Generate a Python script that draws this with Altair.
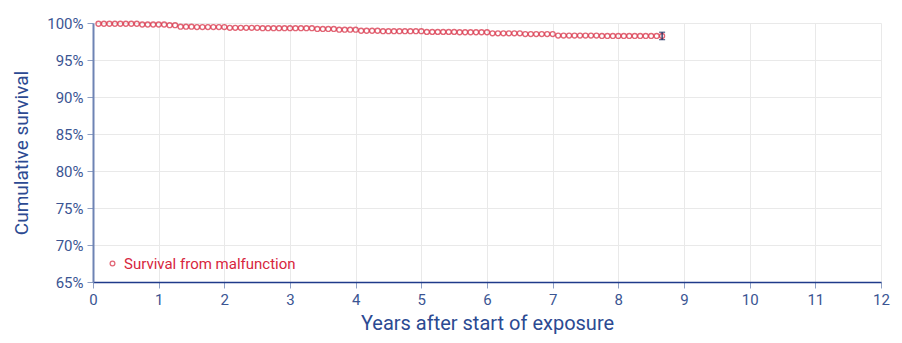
import altair as alt
import pandas as pd

# monthly survival estimates (months 1..104)
months = list(range(1, 105))
survival = (
    [99.9] * 8 + [99.8] * 5 + [99.7] * 2 + [99.5] * 3 + [99.45] * 6 +
    [99.35] * 6 + [99.3] * 10 + [99.2] * 4 + [99.1] * 4 + [98.95] * 4 +
    [98.9] * 8 + [98.8] * 6 + [98.75] * 6 + [98.6] * 6 + [98.5] * 6 +
    [98.3] * 8 + [98.25] * 12
)
series_name = "Survival from malfunction"
err_year = [104 / 12]
err_low = [97.75]
err_high = [98.75]
y_ticks = [0.65, 0.70, 0.75, 0.80, 0.85, 0.90, 0.95, 1.00]
x_ticks = list(range(0, 13))

df = pd.DataFrame({
    "year": [m / 12 for m in months],
    "surv": [s / 100 for s in survival],
    "series": [series_name] * len(months),
})
err = pd.DataFrame({
    "year": err_year,
    "lo": [v / 100 for v in err_low],
    "hi": [v / 100 for v in err_high],
})

FONT = "Roboto"
LABEL_C = "#3b5593"
TITLE_C = "#2c4a92"
RED = "#d7263d"

xscale = alt.Scale(domain=[0, 12], nice=False)
yscale = alt.Scale(domain=[0.65, 1.0], nice=False)

xaxis = alt.Axis(
    title="Years after start of exposure", values=x_ticks, format="d",
    domainColor="#1f3a8a", domainWidth=1.5, tickColor="#8fa0c4", tickSize=6,
    labelColor=LABEL_C, labelFontSize=15, labelFont=FONT, labelPadding=4,
    titleColor=TITLE_C, titleFontSize=20, titleFont=FONT, titleFontWeight="normal",
    titlePadding=6, gridColor="#e9e9e9", labelFlush=False, labelOverlap=False,
)
yaxis = alt.Axis(
    title="Cumulative survival", values=y_ticks,
    format=".0%", domainColor="#6e83b4", domainWidth=2, tickColor="#8fa0c4", tickSize=6,
    labelColor=LABEL_C, labelFontSize=15, labelFont=FONT, labelPadding=4,
    titleColor=TITLE_C, titleFontSize=19, titleFont=FONT, titleFontWeight="normal",
    titlePadding=15, gridColor="#e9e9e9", labelOverlap=False, labelFlush=False,
)

X = alt.X("year:Q", scale=xscale, axis=xaxis)

points = alt.Chart(df).mark_point(
    shape="circle", filled=False, size=24, strokeWidth=1.4
).encode(
    x=X,
    y=alt.Y("surv:Q", scale=yscale, axis=yaxis),
    color=alt.Color(
        "series:N",
        scale=alt.Scale(range=[RED]),
        legend=alt.Legend(
            title=None, orient="none", legendX=12, legendY=233,
            labelColor=RED, labelFontSize=15, labelFont=FONT, labelLimit=0,
            symbolSize=22, symbolStrokeWidth=1.3, symbolType="circle",
            labelOffset=4, padding=0,
        ),
    ),
)

rule = alt.Chart(err).mark_rule(color="#1b2a5c", strokeWidth=1.3).encode(
    x=X, y=alt.Y("lo:Q", scale=yscale, axis=yaxis), y2="hi:Q"
)
cap_lo = alt.Chart(err).mark_tick(color="#1b2a5c", size=6, thickness=1.3, orient="horizontal").encode(
    x=X, y=alt.Y("lo:Q", scale=yscale, axis=yaxis)
)
cap_hi = alt.Chart(err).mark_tick(color="#1b2a5c", size=6, thickness=1.3, orient="horizontal").encode(
    x=X, y=alt.Y("hi:Q", scale=yscale, axis=yaxis)
)

chart = alt.layer(points, rule, cap_lo, cap_hi).properties(
    width=788, height=259,
    autosize=alt.AutoSizeParams(type="none"),
    padding={"left": 85, "top": 15, "right": 13, "bottom": 53},
).configure_view(stroke=None).configure_axis(gridWidth=1, labelOverlap=False)

chart.save("out.html", embed_options={"renderer": "svg", "actions": False})
